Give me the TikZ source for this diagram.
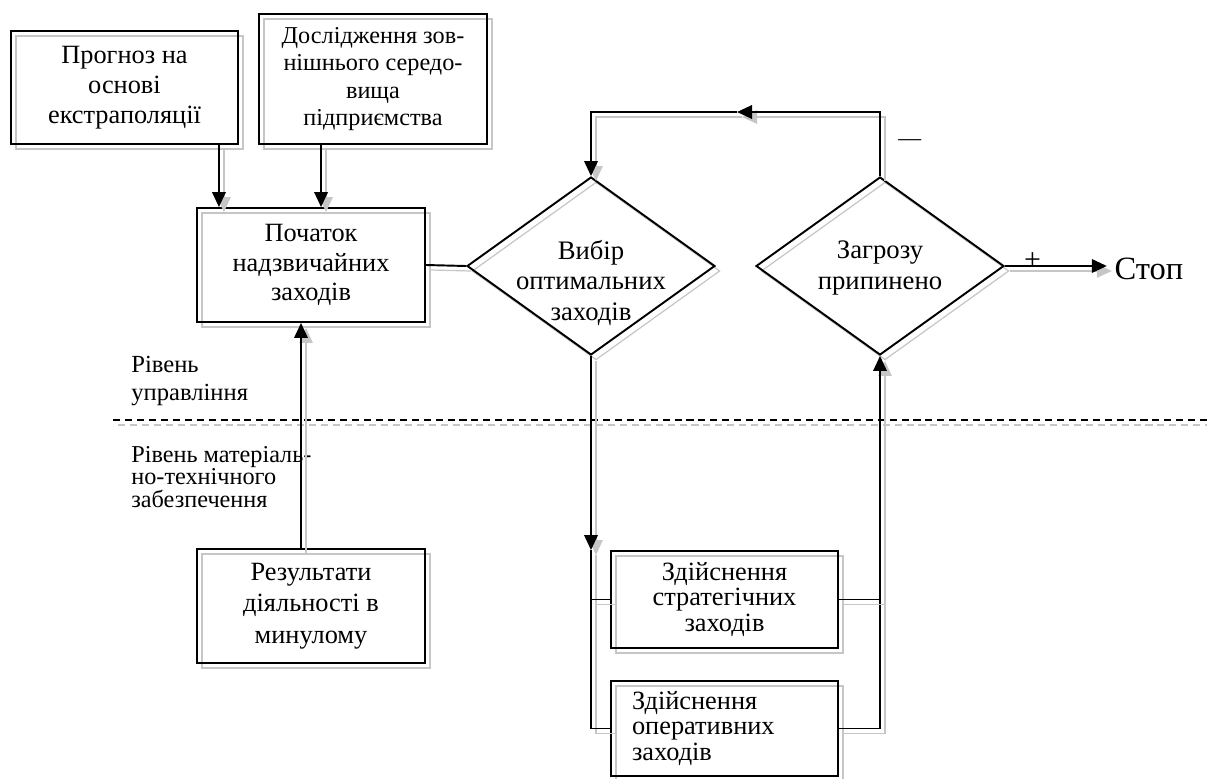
\documentclass[tikz,border=0pt]{standalone}
\usepackage{fontspec}
\setmainfont{Liberation Serif}
\usetikzlibrary{shapes.geometric,shadows,arrows.meta}

\newcommand{\fs}[2]{\fontsize{#1}{#2}\selectfont}

\begin{document}
\begin{tikzpicture}[x=0.02cm, y=-0.02cm,
    every node/.style={inner sep=0pt},
    shd/.style={draw=gray!45, line width=0.7pt, transform canvas={xshift=0.1cm, yshift=-0.1cm}},
    box/.style={draw, line width=1.1pt, align=center, font=\fs{15}{17},
      general shadow={draw=gray!45, line width=0.7pt, shadow xshift=0.1cm, shadow yshift=-0.1cm}},
    choice/.style={box, diamond, minimum width=4.96cm, minimum height=3.56cm},
    link/.style={line width=1.1pt, preaction={shd}},
    arr/.style={line width=1.1pt, -{Triangle[length=0.3cm, width=0.27cm]},
      preaction={shd, -{Triangle[length=0.3cm, width=0.27cm]}}},
    lvl/.style={anchor=west, align=left}]
  \useasboundingbox (0,0) rectangle (1207,778);

  % Boxes
  \node[box, minimum width=4.54cm, minimum height=2.26cm] (prognoz) at (124.5,87.5) {Прогноз на\\основі\\екстраполяції};
  \node[box, minimum width=4.56cm, minimum height=2.6cm, font=\fs{13.8}{15.5}] (doslid) at (373,79) {Дослідження зов-\\нішнього середо-\\вища\\підприємства};
  \node[box, minimum width=4.56cm, minimum height=2.28cm] (pochatok) at (311,265) {Початок\\надзвичайних\\заходів};
  \node[box, minimum width=4.56cm, minimum height=2.28cm, font=\fs{15}{18}] (results) at (311,606) {Результати\\діяльності в\\минулому};
  \node[box, minimum width=4.54cm, minimum height=1.94cm, font=\fs{15}{14.5}] (strat) at (724.5,599.5) {Здійснення\\стратегічних\\заходів};
  \node[box, minimum height=1.9cm, text width=3.7cm, inner xsep=0.42cm, align=left, font=\fs{15}{14.5}] (oper) at (724.5,728.5) {Здійснення\\оперативних\\заходів};

  % Decisions
  \node[choice, label={[yshift=-0.34cm, align=center, font=\fs{15.2}{17.5}]center:{Вибір\\оптимальних\\заходів}}] (vybir) at (591,266) {};
  \node[choice, label={[yshift=-0.04cm, align=center, font=\fs{15.2}{17.5}]center:{Загрозу\\припинено}}] (zagroza) at (880,266) {};
  \node[font=\fs{18.5}{20}, inner xsep=0.15cm] (stop) at (1149,269) {Стоп};

  % Level labels & divider
  \node[lvl, font=\fs{14}{16}] (upr) at (131,381) {Рівень\\управління};
  \node[lvl, font=\fs{13.8}{13}] (mat) at (131,477) {Рівень матеріаль-\\но-технічного\\забезпечення};
  \draw[line width=0.9pt, dash pattern=on 4pt off 2.8pt,
    preaction={shd, dash pattern=on 4pt off 2.8pt}] (113,420) -- (1207,420);

  % Inputs
  \draw[arr] ([xshift=-0.4cm]prognoz.south east) coordinate (inA) -- (inA |- pochatok.north);
  \draw[arr] ([xshift=1.26cm]doslid.south west) coordinate (inB) -- (inB |- pochatok.north);
  \draw[arr] ([xshift=-0.2cm]results.north) coordinate (inC) -- (inC |- pochatok.south);
  \draw[link] (pochatok.east) -- (vybir.west);

  % Feedback loop
  \coordinate (back) at (737,112);
  \draw[arr] (zagroza.north) |- node[pos=0.26, right=0.35cm, font=\fs{13}{13}] (minus) {—} (back);
  \draw[arr] (back) -| (vybir.north);
  \draw[arr] (zagroza.east) -- node[pos=0.27, yshift=0.1cm, font=\fs{17}{17}] (plus) {+} (zagroza.east -| stop.west);

  % Measures
  \draw[arr] (vybir.south) -- (vybir.south |- strat.north);
  \draw[link] (vybir.south |- strat.north) -- (vybir.south |- oper.west);
  \draw[arr] (zagroza.south |- oper.east) -- (zagroza.south);
  \foreach \b in {strat, oper} {
    \draw[link] (\b.west) -- (\b.west -| vybir.south);
    \draw[link] (\b.east) -- (\b.east -| zagroza.south);
  }
\end{tikzpicture}
\end{document}
